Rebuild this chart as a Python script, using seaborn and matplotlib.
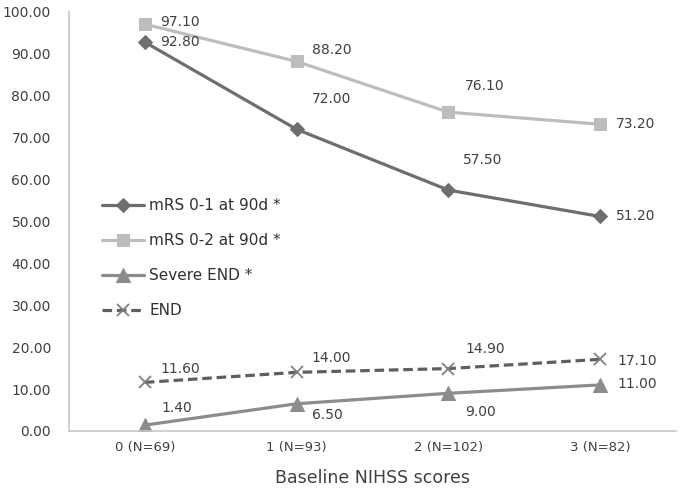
import pandas as pd
import matplotlib
matplotlib.use("Agg")
import matplotlib.pyplot as plt
import seaborn as sns

categories = ["0 (N=69)", "1 (N=93)", "2 (N=102)", "3 (N=82)"]
mrs01 = [92.80, 72.00, 57.50, 51.20]
mrs02 = [97.10, 88.20, 76.10, 73.20]
severe_end = [1.40, 6.50, 9.00, 11.00]
end = [11.60, 14.00, 14.90, 17.10]

series_names = ["mRS 0-1 at 90d *", "mRS 0-2 at 90d *", "Severe END *", "END"]
series_values = [mrs01, mrs02, severe_end, end]

sns.set_style("white")
plt.rcParams["font.family"] = ["DejaVu Sans"]

fig = plt.figure(figsize=(6.82, 4.97), dpi=100)
ax = fig.add_axes([69 / 682, 66 / 497, 607 / 682, 419 / 497])

styles = [
    dict(color="#6e6e6e", marker="D", markersize=7.5, linestyle="-"),
    dict(color="#bdbdbd", marker="s", markersize=9, linestyle="-"),
    dict(color="#8c8c8c", marker="^", markersize=10, linestyle="-"),
    dict(color="#5f5f5f", marker="x", markersize=9, linestyle=(0, (3, 1.5)),
         markeredgecolor="#808080", markeredgewidth=1.3),
]

for name, vals, st in zip(series_names, series_values, styles):
    df = pd.DataFrame({"score": categories, "value": vals})
    st = dict(st)
    if "markeredgecolor" not in st:
        st["markeredgecolor"] = st["color"]
    sns.lineplot(data=df, x="score", y="value", ax=ax, label=name,
                 linewidth=2.3, sort=False, **st)

# label offsets in pixels (dx, dy) per series per point
offsets = [
    [(15, 0), (15, 30), (15, 30), (16, 0)],
    [(15, 2), (15, 11), (16, 26), (16, 0)],
    [(17, 17), (15, -11), (17, -19), (17, 1)],
    [(16, 13), (15, 14), (17, 20), (17, -2)],
]
for vals, offs in zip(series_values, offsets):
    for i, (v, (dx, dy)) in enumerate(zip(vals, offs)):
        ax.annotate(f"{v:.2f}", (i, v), xytext=(dx, dy), textcoords="offset pixels",
                    ha="left", va="center", fontsize=10, color="#404040")

ax.set_xlim(-0.5, 3.5)
ax.set_ylim(0, 100)
ax.set_yticks(range(0, 101, 10))
ax.set_yticklabels([f"{t:.2f}" for t in range(0, 101, 10)])
ax.tick_params(axis="both", length=0, colors="#404040")
ax.tick_params(axis="y", pad=13, labelsize=10)
ax.tick_params(axis="x", pad=7, labelsize=9.5)
ax.set_xlabel("Baseline NIHSS scores", fontsize=12.5, color="#404040", labelpad=11)
ax.set_ylabel("")

for side in ["top", "right"]:
    ax.spines[side].set_visible(False)
for side in ["left", "bottom"]:
    ax.spines[side].set_color("#c8c8c8")
    ax.spines[side].set_linewidth(1.2)

leg = ax.legend(loc="upper left", bbox_to_anchor=(0.045, 0.57), frameon=False,
                fontsize=11, handlelength=2.7, labelspacing=1.3, handletextpad=0.35,
                borderaxespad=0)
for t in leg.get_texts():
    t.set_color("#303030")

fig.savefig("out.png", dpi=100)
